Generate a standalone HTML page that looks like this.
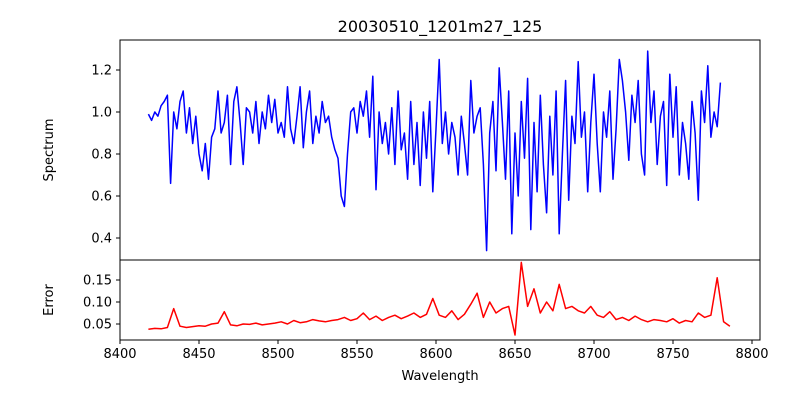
<!DOCTYPE html>
<html><head><meta charset="utf-8"><style>
body{margin:0;background:#fff;font-family:"Liberation Sans","DejaVu Sans",sans-serif}
svg text{font-family:"DejaVu Sans","Liberation Sans",sans-serif}
</style></head><body>
<svg id="chart" width="800" height="400" xmlns="http://www.w3.org/2000/svg">
<rect width="800" height="400" fill="#fff"/>
<text x="440" y="32" font-size="16" text-anchor="middle">20030510_1201m27_125</text>
<g id="gtop"></g><g id="gbot"></g><g id="gx"></g>
<text x="440" y="380" font-size="13" text-anchor="middle">Wavelength</text>
<text transform="translate(53,150) rotate(-90)" font-size="13" text-anchor="middle">Spectrum</text>
<text transform="translate(53,300) rotate(-90)" font-size="13" text-anchor="middle">Error</text>
<rect x="120" y="40" width="640" height="220" fill="none" stroke="#000" stroke-width="1"/>
<rect x="120" y="260" width="640" height="80" fill="none" stroke="#000" stroke-width="1"/>
</svg>
<script>
const specStart = 8418, specStep = 2;
const specValues = [
0.99,0.96,1.00,0.98,1.03,1.05,1.08,0.66,1.00,0.92,
1.05,1.10,0.90,1.02,0.85,0.98,0.80,0.72,0.85,0.68,
0.88,0.92,1.10,0.90,0.95,1.08,0.75,1.05,1.12,0.95,
0.75,1.02,1.00,0.90,1.05,0.85,1.00,0.92,1.08,0.95,
1.06,0.90,0.95,0.88,1.12,0.92,0.85,0.98,1.12,0.83,
1.00,1.10,0.85,0.98,0.90,1.05,0.95,0.98,0.88,0.82,
0.78,0.60,0.55,0.80,1.00,1.02,0.90,1.05,0.98,1.10,
0.88,1.17,0.63,1.00,0.85,0.95,0.80,1.02,0.75,1.10,
0.82,0.90,0.68,1.05,0.75,0.95,0.65,1.00,0.78,1.05,
0.62,0.92,1.25,0.85,1.00,0.80,0.95,0.88,0.70,0.98,
0.85,0.70,1.15,0.90,0.98,1.02,0.75,0.34,0.90,1.05,
0.72,1.21,0.95,0.68,1.10,0.42,0.90,0.60,1.05,0.78,
1.16,0.44,0.95,0.62,1.08,0.75,0.52,0.98,0.70,1.10,
0.42,0.80,1.15,0.58,0.98,0.85,1.24,0.88,1.00,0.62,
0.95,1.18,0.85,0.62,1.00,0.88,1.10,0.68,0.92,1.25,
1.15,1.00,0.77,1.08,0.95,1.15,0.80,0.70,1.29,0.95,
1.10,0.75,0.98,1.05,0.65,1.18,0.88,1.12,0.70,0.95,
0.85,0.68,1.05,0.90,0.58,1.10,0.95,1.22,0.88,1.00,
0.93,1.14];
const errStart = 8418, errStep = 4;
const errValues = [
0.038,0.040,0.039,0.042,0.085,0.045,0.042,0.044,0.046,0.045,
0.050,0.052,0.078,0.048,0.046,0.050,0.049,0.052,0.048,0.050,
0.052,0.055,0.050,0.058,0.053,0.055,0.060,0.057,0.055,0.058,
0.060,0.065,0.058,0.062,0.075,0.060,0.068,0.058,0.065,0.070,
0.062,0.068,0.075,0.065,0.072,0.108,0.070,0.065,0.080,0.060,
0.072,0.095,0.120,0.065,0.100,0.075,0.085,0.090,0.025,0.190,
0.090,0.130,0.075,0.100,0.080,0.140,0.085,0.090,0.080,0.075,
0.090,0.070,0.065,0.078,0.060,0.065,0.058,0.068,0.060,0.055,
0.060,0.058,0.055,0.062,0.052,0.058,0.055,0.075,0.065,0.070,
0.155,0.055,0.045];
const xTicks = [8400,8450,8500,8550,8600,8650,8700,8750,8800];
const specTicks = [0.4,0.6,0.8,1.0,1.2];
const errTicks = [0.05,0.10,0.15];

const NS = "http://www.w3.org/2000/svg";
const xS = v => 120 + (v - 8400) * 1.58;
const yS = v => 70 + (1.2 - v) * 210;
const yE = v => 324 - (v - 0.05) * 440;
function mk(tag, attrs, parent){const e=document.createElementNS(NS,tag);for(const k in attrs)e.setAttribute(k,attrs[k]);parent.appendChild(e);return e;}
const gTop=document.getElementById('gtop'), gBot=document.getElementById('gbot'), gX=document.getElementById('gx');

const sp = specValues.map((v,i)=>xS(specStart+i*specStep).toFixed(1)+','+yS(v).toFixed(1)).join(' ');
const sl = mk('polyline',{points:sp,fill:'none',stroke:'#0000ff','stroke-width':1.5,'stroke-linejoin':'round'},gTop);


const ep = errValues.map((v,i)=>xS(errStart+i*errStep).toFixed(1)+','+yE(v).toFixed(1)).join(' ');
const el = mk('polyline',{points:ep,fill:'none',stroke:'#ff0000','stroke-width':1.5,'stroke-linejoin':'round'},gBot);



xTicks.forEach(t=>{
  const x=xS(t);
  mk('line',{x1:x,x2:x,y1:340,y2:344,stroke:'#000'},gX);
  const tx=mk('text',{x:x,y:358,'font-size':13,'text-anchor':'middle'},gX);
  tx.textContent=t;
  
  
});
specTicks.forEach(t=>{
  const y=yS(t);
  mk('line',{x1:116,x2:120,y1:y,y2:y,stroke:'#000'},gTop);
  const tx=mk('text',{x:112,y:y+4.5,'font-size':13,'text-anchor':'end'},gTop);
  tx.textContent=t.toFixed(1);
  
  
});
errTicks.forEach(t=>{
  const y=yE(t);
  mk('line',{x1:116,x2:120,y1:y,y2:y,stroke:'#000'},gBot);
  const tx=mk('text',{x:112,y:y+4.5,'font-size':13,'text-anchor':'end'},gBot);
  tx.textContent=t.toFixed(2);
  
  
});
</script>
</body></html>
